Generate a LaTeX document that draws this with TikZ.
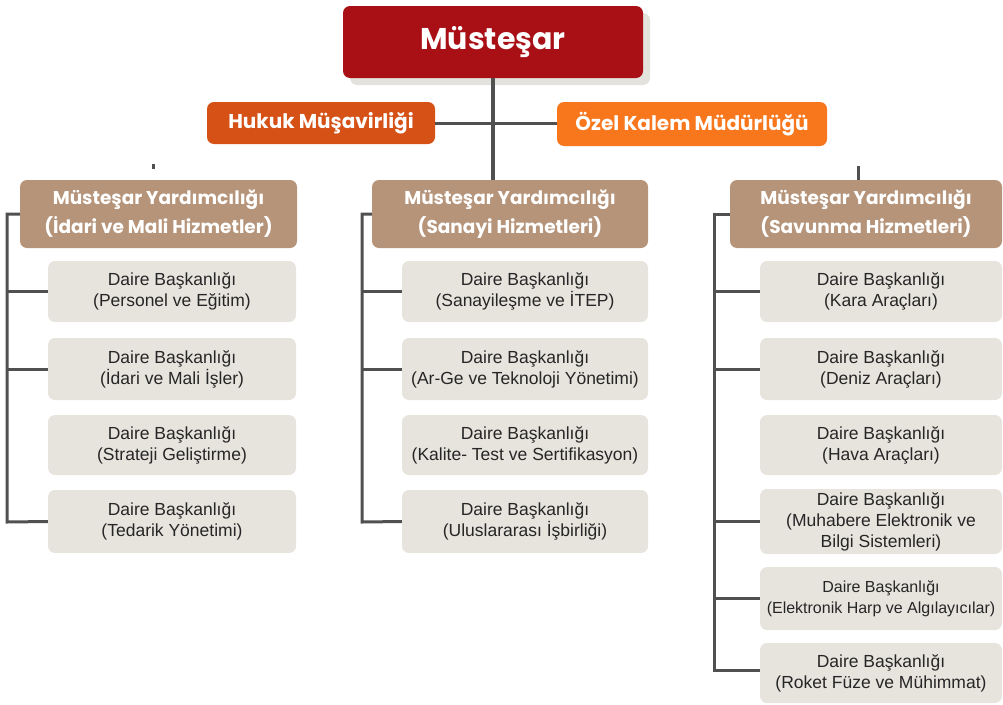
\documentclass[tikz,border=0pt]{standalone}
\usepackage{fontspec}
\setmainfont{Liberation Sans}
\newfontfamily\titlefont{Poppins}
\definecolor{cRed}{HTML}{A81016}
\definecolor{cHukuk}{HTML}{D55116}
\definecolor{cOzel}{HTML}{F8761C}
\definecolor{cTan}{HTML}{B5947A}
\definecolor{cSub}{HTML}{E7E4DE}
\definecolor{cLine}{HTML}{505050}
\definecolor{cShadow}{HTML}{E4E2DC}
\begin{document}
\begin{tikzpicture}[x=1pt,y=-1pt,
  box/.style={rounded corners=7pt,inner sep=0pt,align=center},
  topbox/.style={box,fill=cRed,text=white,font=\titlefont\bfseries\fontsize{30}{34}\selectfont},
  sidebox/.style={box,text=white,font=\titlefont\bfseries\fontsize{20}{24}\selectfont},
  mybox/.style={box,fill=cTan,text=white,font=\titlefont\bfseries\fontsize{18.5}{29}\selectfont},
  subbox/.style={box,fill=cSub,text=black!85,font=\fontsize{17.5}{21}\selectfont},
  conn/.style={draw=cLine,line width=3pt},
  spine/.style={draw=cLine,line width=4pt}]
\useasboundingbox (0,0) rectangle (1003,704);
% shadow of top box
\fill[cShadow,rounded corners=7pt] (350,13) rectangle (650,85);
\node[topbox,minimum width=300pt,minimum height=72pt] (top) at (493,42) {Müsteşar};
\node[sidebox,fill=cHukuk,minimum width=228pt,minimum height=42pt] (hukuk) at (321,123) {Hukuk Müşavirliği};
\node[sidebox,fill=cOzel,minimum width=270pt,minimum height=44pt] (ozel) at (692,124) {Özel Kalem Müdürlüğü};
% assistant boxes
\node[mybox,minimum width=277pt,minimum height=68pt] (my1) at (158.5,214) {Müsteşar Yardımcılığı\\(İdari ve Mali Hizmetler)};
\node[mybox,minimum width=276pt,minimum height=68pt] (my2) at (510,214) {Müsteşar Yardımcılığı\\(Sanayi Hizmetleri)};
\node[mybox,minimum width=272pt,minimum height=68pt] (my3) at (866,214) {Müsteşar Yardımcılığı\\(Savunma Hizmetleri)};
% left column
\node[subbox,minimum width=248pt,minimum height=61pt] (l1) at (172,291.5) {Daire Başkanlığı\\(Personel ve Eğitim)};
\node[subbox,minimum width=248pt,minimum height=62pt] (l2) at (172,369) {Daire Başkanlığı\\(İdari ve Mali İşler)};
\node[subbox,minimum width=248pt,minimum height=60pt] (l3) at (172,445) {Daire Başkanlığı\\(Strateji Geliştirme)};
\node[subbox,minimum width=248pt,minimum height=63pt] (l4) at (172,521.5) {Daire Başkanlığı\\(Tedarik Yönetimi)};
% middle column
\node[subbox,minimum width=246pt,minimum height=61pt] (m1) at (525,291.5) {Daire Başkanlığı\\(Sanayileşme ve İTEP)};
\node[subbox,minimum width=246pt,minimum height=62pt] (m2) at (525,369) {Daire Başkanlığı\\(Ar-Ge ve Teknoloji Yönetimi)};
\node[subbox,minimum width=246pt,minimum height=60pt] (m3) at (525,445) {Daire Başkanlığı\\(Kalite- Test ve Sertifikasyon)};
\node[subbox,minimum width=246pt,minimum height=63pt] (m4) at (525,521.5) {Daire Başkanlığı\\(Uluslararası İşbirliği)};
% right column
\node[subbox,minimum width=242pt,minimum height=61pt] (r1) at (881,291.5) {Daire Başkanlığı\\(Kara Araçları)};
\node[subbox,minimum width=242pt,minimum height=62pt] (r2) at (881,369) {Daire Başkanlığı\\(Deniz Araçları)};
\node[subbox,minimum width=242pt,minimum height=60pt] (r3) at (881,445) {Daire Başkanlığı\\(Hava Araçları)};
\node[subbox,minimum width=242pt,minimum height=65pt] (r4) at (881,521.5) {Daire Başkanlığı\\(Muhabere Elektronik ve\\Bilgi Sistemleri)};
\node[subbox,minimum width=242pt,minimum height=63pt,font=\fontsize{16}{21}\selectfont] (r5) at (881,598.5) {Daire Başkanlığı\\(Elektronik Harp ve Algılayıcılar)};
\node[subbox,minimum width=242pt,minimum height=60pt] (r6) at (881,673) {Daire Başkanlığı\\(Roket Füze ve Mühimmat)};
% spine coordinates
\coordinate (lb) at (7,522);
\coordinate (mb) at (362,522);
\coordinate (rb) at (714,670);
\coordinate (tl1) at (153,164);
\coordinate (tl2) at (153,169);
\coordinate (tr1) at (858,166);
% connectors
\path[spine] (top.south) -- (top.south |- my2.north);
\path[conn] (hukuk.east) -- (hukuk.east -| ozel.west);
\path[conn] (tl1) -- (tl2);
\path[conn] (tr1) -- (tr1 |- my3.north);
% left
\path[conn] (my1.west) -| (lb) -- (l4.west);
\path[conn] (l1.west) -- (l1.west -| lb);
\path[conn] (l2.west) -- (l2.west -| lb);
% middle
\path[conn] (my2.west) -| (mb) -- (m4.west);
\path[conn] (m1.west) -- (m1.west -| mb);
\path[conn] (m2.west) -- (m2.west -| mb);
% right
\path[conn] (my3.west) -| (rb) -- (rb -| r6.west);
\path[conn] (r1.west) -- (r1.west -| rb);
\path[conn] (r2.west) -- (r2.west -| rb);
\path[conn] (r4.west) -- (r4.west -| rb);
\path[conn] (r5.west) -- (r5.west -| rb);
\end{tikzpicture}
\end{document}
